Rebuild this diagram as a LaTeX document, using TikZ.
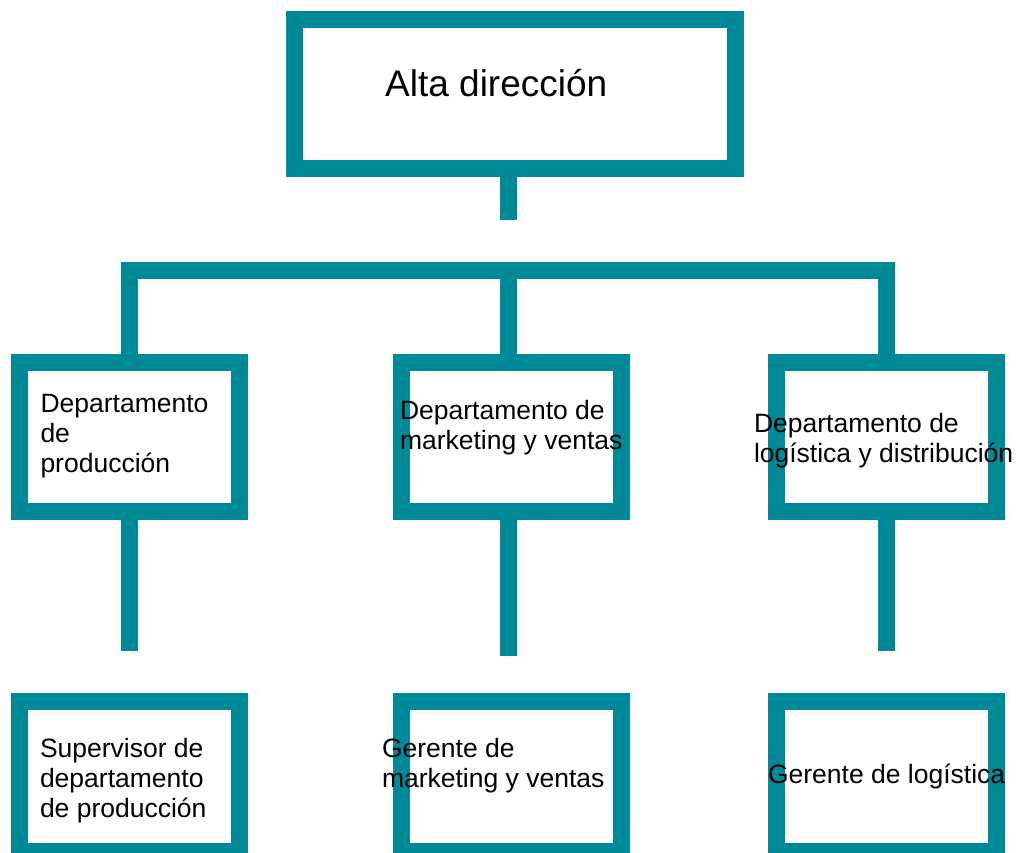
\documentclass[tikz,border=0pt]{standalone}
\usepackage{fontspec}
\setmainfont{Liberation Sans}
\definecolor{teal}{RGB}{0,137,150}
\begin{document}
\begin{tikzpicture}[x=1pt,y=-1pt,
  box/.style={draw=teal,line width=17pt,fill=white,rectangle,inner sep=0pt,outer sep=0pt,line join=miter},
  conn/.style={draw=teal,line width=17pt,line join=miter},
  lbl/.style={anchor=base west,inner sep=0pt,outer sep=0pt,align=left,font=\fontsize{26.5}{30}\selectfont},
]
\useasboundingbox (0,0) rectangle (1018,853);
\clip (0,0) rectangle (1018,853);
% boxes
\node[box,minimum width=441pt,minimum height=149.5pt] (top) at (515,94.25) {};
\node[box,minimum width=220pt,minimum height=149.5pt] (d1) at (129.5,436.75) {};
\node[box,minimum width=220pt,minimum height=149.5pt] (d2) at (511,436.75) {};
\node[box,minimum width=220.5pt,minimum height=149.5pt] (d3) at (886.25,436.75) {};
\node[box,minimum width=220pt,minimum height=150pt] (b1) at (129.5,776.5) {};
\node[box,minimum width=220pt,minimum height=150pt] (b2) at (511,776.5) {};
\node[box,minimum width=220.5pt,minimum height=150pt] (b3) at (886.25,776.5) {};
% connector ends
\coordinate (topstem) at (508,220);
\coordinate (bus) at (508,270.5);
\coordinate (s1) at (129.5,651);
\coordinate (s2) at (508,656);
\coordinate (s3) at (886.5,651);
% connectors
\draw[conn] (top.south -| topstem) -- (topstem);
\draw[conn] (d1.north) |- (bus) -| (d3.north);
\draw[conn] (bus) -- (bus |- d2.north);
\draw[conn] (d1.south) -- (s1);
\draw[conn] (d2.south -| s2) -- (s2);
\draw[conn] (d3.south -| s3) -- (s3);
% texts (base anchor = baseline of the last line)
\node[anchor=base west,inner sep=0pt,font=\fontsize{37}{44}\selectfont] (ttop) at (385,97) {Alta dirección};
\node[lbl] (td1) at (40.5,472) {Departamento\\de\\producción};
\node[lbl] (td2) at (400,449) {Departamento de\\marketing y ventas};
\node[lbl] (td3) at (754,462) {Departamento de\\logística y distribución};
\node[lbl] (tb1) at (40,817) {Supervisor de\\departamento\\de producción};
\node[lbl] (tb2) at (382,787) {Gerente de\\marketing y ventas};
\node[lbl] (tb3) at (768,783) {Gerente de logística};
\end{tikzpicture}
\end{document}
